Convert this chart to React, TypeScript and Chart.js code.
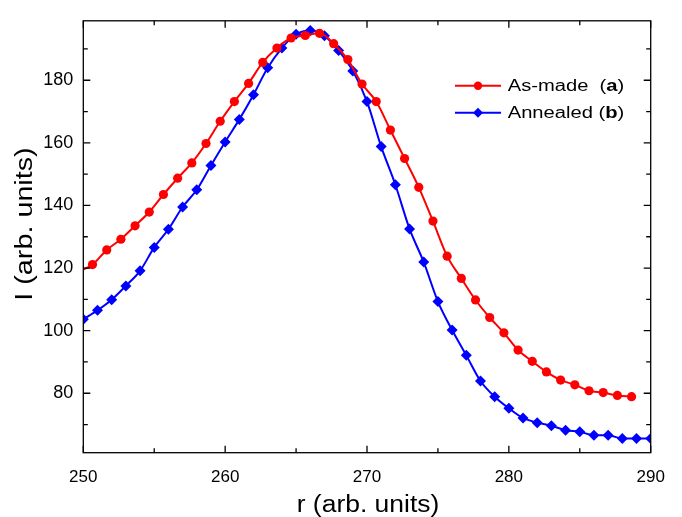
import React, { useEffect, useRef } from "react";
import { Chart, registerables } from "chart.js";

Chart.register(...registerables);

// ---- Data ----
const asMadeR = [
  249.65, 250.65, 251.65, 252.65, 253.65, 254.65, 255.65, 256.65, 257.65, 258.65,
  259.65, 260.65, 261.65, 262.65, 263.65, 264.65, 265.65, 266.65, 267.65, 268.65,
  269.65, 270.65, 271.65, 272.65, 273.65, 274.65, 275.65, 276.65, 277.65, 278.65,
  279.65, 280.65, 281.65, 282.65, 283.65, 284.65, 285.65, 286.65, 287.65, 288.65,
];
const asMadeI = [
  118.8, 121.1, 125.8, 129.2, 133.5, 137.9, 143.5, 148.7, 153.6, 159.8,
  166.9, 173.2, 179.0, 185.7, 190.3, 193.5, 194.3, 195.0, 191.7, 186.6,
  178.8, 173.2, 164.1, 155.0, 145.8, 135.0, 123.8, 116.7, 109.8, 104.2,
  99.3, 93.8, 90.2, 86.8, 84.2, 82.7, 80.8, 80.2, 79.3, 78.9,
];
const annealedR = [
  250, 251, 252, 253, 254, 255, 256, 257, 258, 259,
  260, 261, 262, 263, 264, 265, 266, 267, 268, 269,
  270, 271, 272, 273, 274, 275, 276, 277, 278, 279,
  280, 281, 282, 283, 284, 285, 286, 287, 288, 289, 290,
];
const annealedI = [
  103.6, 106.5, 109.9, 114.3, 119.1, 126.6, 132.4, 139.5, 145.0, 152.8,
  160.3, 167.5, 175.4, 184.0, 190.3, 194.7, 195.9, 194.2, 189.5, 183.0,
  173.2, 158.8, 146.6, 132.5, 121.9, 109.3, 100.2, 92.1, 83.9, 78.9,
  75.2, 72.1, 70.6, 69.6, 68.2, 67.7, 66.6, 66.6, 65.5, 65.5, 65.5,
];
const xMajorTicks = [250, 260, 270, 280, 290];
const xMinorTicks = [255, 265, 275, 285];
const yMajorTicks = [80, 100, 120, 140, 160, 180];
const yMinorTicks = [70, 90, 110, 130, 150, 170, 190];
const xRange = [250, 290];
const yRange = [61, 199];
const seriesNames = ["As-made  (", "Annealed ("];
const seriesTags = ["a", "b"];
const xTitle = "r (arb. units)";
const yTitle = "I (arb. units)";

const FONT = "'Liberation Sans', Arial, Helvetica, sans-serif";
const RED = "#ff0000";
const BLUE = "#0000ff";

function drawParts(
  ctx: CanvasRenderingContext2D,
  parts: { t: string; bold?: boolean }[],
  size: number
) {
  let x = 0;
  for (const p of parts) {
    ctx.font = `${p.bold ? "bold " : ""}${size}px ${FONT}`;
    ctx.fillText(p.t, x, 0);
    x += ctx.measureText(p.t).width;
  }
  return x;
}

function measureParts(
  ctx: CanvasRenderingContext2D,
  parts: { t: string; bold?: boolean }[],
  size: number
) {
  let x = 0;
  for (const p of parts) {
    ctx.font = `${p.bold ? "bold " : ""}${size}px ${FONT}`;
    x += ctx.measureText(p.t).width;
  }
  return x;
}

const framePlugin = {
  id: "framePlugin",
  afterDatasetsDraw(chart: any) {
    const { ctx, chartArea } = chart;
    const xs = chart.scales.x;
    const ys = chart.scales.y;
    const { left, right, top, bottom } = chartArea;
    ctx.save();
    ctx.strokeStyle = "#000";
    ctx.lineWidth = 1.3;
    ctx.strokeRect(left, top, right - left, bottom - top);
    const major = 7;
    const minor = 4.5;
    ctx.beginPath();
    const xt = (v: number, len: number) => {
      const px = xs.getPixelForValue(v);
      ctx.moveTo(px, bottom);
      ctx.lineTo(px, bottom - len);
      ctx.moveTo(px, top);
      ctx.lineTo(px, top + len);
    };
    const yt = (v: number, len: number) => {
      const py = ys.getPixelForValue(v);
      ctx.moveTo(left, py);
      ctx.lineTo(left + len, py);
      ctx.moveTo(right, py);
      ctx.lineTo(right - len, py);
    };
    xMajorTicks.forEach((v) => xt(v, major));
    xMinorTicks.forEach((v) => xt(v, minor));
    yMajorTicks.forEach((v) => yt(v, major));
    yMinorTicks.forEach((v) => yt(v, minor));
    ctx.stroke();
    ctx.restore();
  },
  afterDraw(chart: any) {
    const { ctx, chartArea } = chart;
    ctx.save();
    ctx.fillStyle = "#000";
    ctx.textBaseline = "alphabetic";
    ctx.textAlign = "left";

    // X axis title
    {
      const parts = [{ t: xTitle }];
      const size = 23;
      const sx = 1.15;
      const w = measureParts(ctx, parts, size) * sx;
      const cx = (chartArea.left + chartArea.right) / 2 + 1;
      ctx.save();
      ctx.translate(cx - w / 2, 511.5);
      ctx.scale(sx, 1);
      drawParts(ctx, parts, size);
      ctx.restore();
    }
    // Y axis title
    {
      const parts = [{ t: yTitle }];
      const size = 23;
      const sx = 1.25;
      const w = measureParts(ctx, parts, size) * sx;
      ctx.save();
      ctx.translate(32, 224);
      ctx.rotate(-Math.PI / 2);
      ctx.translate(-w / 2, 0);
      ctx.scale(sx, 1);
      drawParts(ctx, parts, size);
      ctx.restore();
    }

    // Legend
    const rows = [
      { color: RED, style: "circle", y: 85.7, base: 91 },
      { color: BLUE, style: "diamond", y: 112.7, base: 118.3 },
    ];
    rows.forEach((r, i) => {
      ctx.save();
      ctx.strokeStyle = r.color;
      ctx.fillStyle = r.color;
      ctx.lineWidth = 2;
      ctx.beginPath();
      ctx.moveTo(455, r.y);
      ctx.lineTo(501, r.y);
      ctx.stroke();
      ctx.beginPath();
      const mx = 478;
      if (r.style === "circle") {
        ctx.arc(mx, r.y, 4.2, 0, Math.PI * 2);
      } else {
        const rr = 5;
        ctx.moveTo(mx - rr, r.y);
        ctx.lineTo(mx, r.y - rr);
        ctx.lineTo(mx + rr, r.y);
        ctx.lineTo(mx, r.y + rr);
        ctx.closePath();
      }
      ctx.fill();
      ctx.restore();

      ctx.save();
      ctx.fillStyle = "#000";
      ctx.translate(507.7, r.base);
      ctx.scale(1.26, 1);
      drawParts(
        ctx,
        [{ t: seriesNames[i] }, { t: seriesTags[i], bold: true }, { t: ")" }],
        16
      );
      ctx.restore();
    });
    ctx.restore();
  },
};

export default function App() {
  const canvasRef = useRef<HTMLCanvasElement | null>(null);

  useEffect(() => {
    const canvas = canvasRef.current;
    if (!canvas) return;
    const chart = new Chart(canvas, {
      type: "line",
      data: {
        datasets: [
          {
            label: "As-made (a)",
            data: asMadeR.map((r, i) => ({ x: r, y: asMadeI[i] })),
            borderColor: RED,
            backgroundColor: RED,
            borderWidth: 2,
            pointStyle: "circle",
            pointRadius: 4.6,
            pointBorderWidth: 0,
            cubicInterpolationMode: "monotone",
            clip: 0,
          },
          {
            label: "Annealed (b)",
            data: annealedR.map((r, i) => ({ x: r, y: annealedI[i] })),
            borderColor: BLUE,
            backgroundColor: BLUE,
            borderWidth: 2,
            pointStyle: "rectRot",
            pointRadius: 5.5,
            pointBorderWidth: 0,
            cubicInterpolationMode: "monotone",
            clip: 0,
          },
        ],
      },
      options: {
        animation: false,
        responsive: false,
        maintainAspectRatio: false,
        layout: { padding: { top: 14, right: 31.3, left: 0, bottom: 0 } },
        plugins: {
          legend: { display: false },
          tooltip: { enabled: false },
          title: { display: false },
        },
        scales: {
          x: {
            type: "linear",
            min: xRange[0],
            max: xRange[1],
            grid: { display: false, drawTicks: false },
            border: { display: false },
            ticks: {
              color: "#000",
              padding: 14,
              font: { family: FONT, size: 17 },
            },
            afterBuildTicks: (s: any) => {
              s.ticks = xMajorTicks.map((v) => ({ value: v }));
            },
            afterFit: (s: any) => {
              s.height = 64.3;
            },
          },
          y: {
            type: "linear",
            min: yRange[0],
            max: yRange[1],
            grid: { display: false, drawTicks: false },
            border: { display: false },
            ticks: {
              color: "#000",
              padding: 10,
              font: { family: FONT, size: 18 },
            },
            afterBuildTicks: (s: any) => {
              s.ticks = yMajorTicks.map((v) => ({ value: v }));
            },
            afterFit: (s: any) => {
              s.width = 83.3;
            },
          },
        },
      } as any,
      plugins: [framePlugin],
    });
    return () => chart.destroy();
  }, []);

  return (
    <div
      style={{
        position: "fixed",
        left: 0,
        top: 0,
        width: 682,
        height: 517,
        background: "#fff",
      }}
    >
      <canvas ref={canvasRef} width={682} height={517} style={{ display: "block" }} />
    </div>
  );
}
